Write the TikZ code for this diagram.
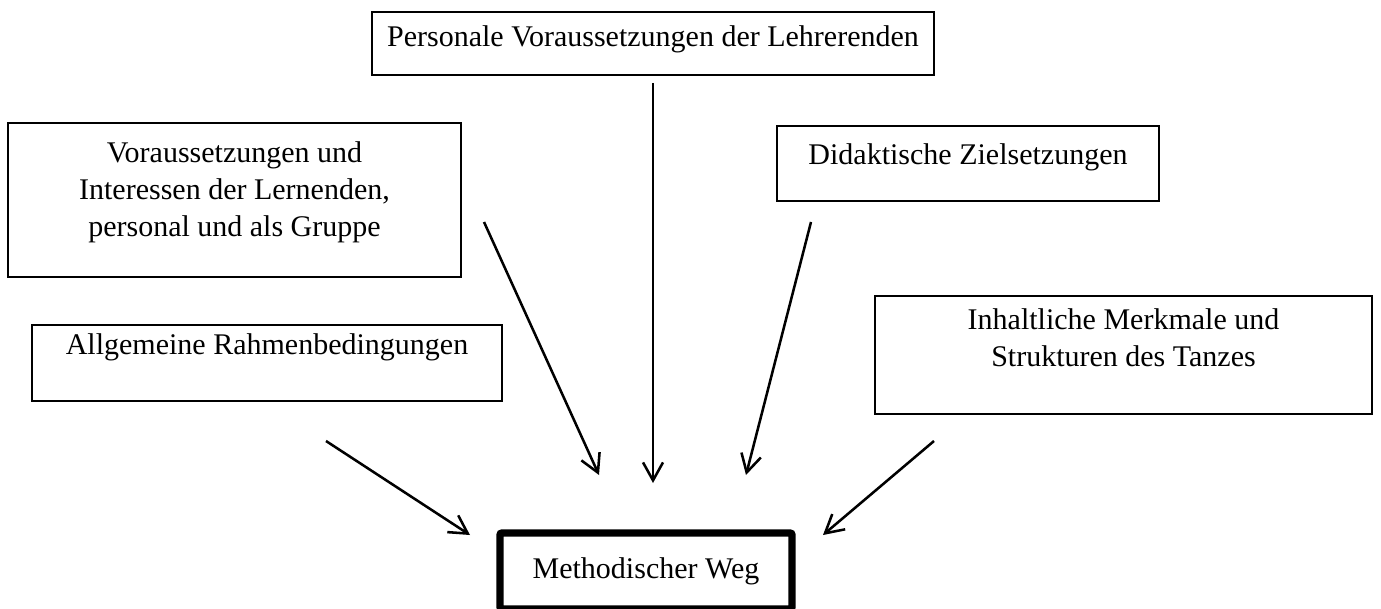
\documentclass[tikz,border=0pt]{standalone}
\usepackage{fontspec}
\setmainfont{Liberation Serif}
\usetikzlibrary{arrows.meta}
\begin{document}
\begin{tikzpicture}[x=0.75pt,y=-0.75pt,
  box/.style={draw,line width=1.5pt,inner sep=0pt},
  mainbox/.style={draw,line width=5.5pt,inner sep=0pt,rounded corners=1.5pt},
  txt/.style={inner sep=0pt,align=center,font=\fontsize{22.5}{27.75}\selectfont},
  arr/.style={line width=1.9pt,-{Straight Barb[length=13.5pt,width=15pt,line width=1.9pt]}}]
\useasboundingbox (0,0) rectangle (1381,609);
% boxes
\node[box,minimum width=562*0.75pt,minimum height=63*0.75pt] (b1) at (653,43.5) {};
\node[box,minimum width=453*0.75pt,minimum height=154*0.75pt] (b2) at (234.5,200) {};
\node[box,minimum width=382*0.75pt,minimum height=75*0.75pt] (b3) at (968,163.5) {};
\node[box,minimum width=470*0.75pt,minimum height=76*0.75pt] (b4) at (267,363) {};
\node[box,minimum width=497*0.75pt,minimum height=118*0.75pt] (b5) at (1123.5,355) {};
\node[mainbox,minimum width=292*0.75pt,minimum height=76*0.75pt] (b6) at (646,571) {};
% texts
\node[txt,anchor=base] (t1) at (653,47) {Personale Voraussetzungen der Lehrerenden};
\node[txt,anchor=north] (t2) at (234.5,141) {Voraussetzungen und\\Interessen der Lernenden,\\personal und als Gruppe};
\node[txt,anchor=base] (t3) at (968,165) {Didaktische Zielsetzungen};
\node[txt,anchor=base] (t4) at (267,355) {Allgemeine Rahmenbedingungen};
\node[txt,anchor=north] (t5) at (1123.5,308) {Inhaltliche Merkmale und\\Strukturen des Tanzes};
\node[txt,anchor=base] (t6) at (646,578) {Methodischer Weg};
% arrow end points
\coordinate (a1s) at (653,83);  \coordinate (a1e) at (653,483);
\coordinate (a2s) at (484,222); \coordinate (a2e) at (599,475);
\coordinate (a3s) at (811,222); \coordinate (a3e) at (746,475);
\coordinate (a4s) at (326,441); \coordinate (a4e) at (470,535);
\coordinate (a5s) at (934,441); \coordinate (a5e) at (823,535);
\draw[arr] (a1s) -- (a1e);
\draw[arr] (a2s) -- (a2e);
\draw[arr] (a3s) -- (a3e);
\draw[arr] (a4s) -- (a4e);
\draw[arr] (a5s) -- (a5e);
\end{tikzpicture}
\end{document}
